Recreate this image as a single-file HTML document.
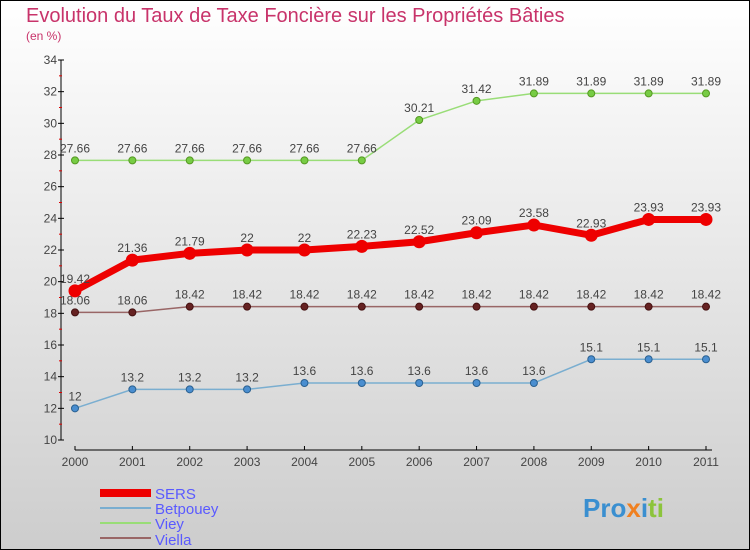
<!DOCTYPE html>
<html><head><meta charset="utf-8"><style>
body{margin:0}
svg{display:block;font-family:"Liberation Sans",sans-serif}
</style></head><body>
<svg width="750" height="550" xmlns="http://www.w3.org/2000/svg">
<defs><linearGradient id="bg" x1="0" y1="0" x2="0" y2="1"><stop offset="0" stop-color="#ffffff"/><stop offset="1" stop-color="#cdcdcd"/></linearGradient></defs>
<rect x="0.5" y="0.5" width="749" height="549" fill="url(#bg)" stroke="#000"/>
<text x="26" y="22" font-size="20" fill="#c8336a">Evolution du Taux de Taxe Foncière sur les Propriétés Bâties</text>
<text x="26" y="40" font-size="12" fill="#c8336a">(en %)</text>
<g id="axes"></g>
<g id="series"></g>
<g>
<rect x="100" y="489" width="51" height="8" fill="#ee0000"/>
<text x="155" y="499" font-size="15" fill="#5a5aff">SERS</text>
<line x1="100" y1="508" x2="151" y2="508" stroke="#7aaed0" stroke-width="2"/>
<text x="155" y="514" font-size="15" fill="#5a5aff">Betpouey</text>
<line x1="100" y1="523" x2="151" y2="523" stroke="#99dd77" stroke-width="2"/>
<text x="155" y="529" font-size="15" fill="#5a5aff">Viey</text>
<line x1="100" y1="538" x2="151" y2="538" stroke="#996666" stroke-width="2"/>
<text x="155" y="545" font-size="15" fill="#5a5aff">Viella</text>
</g>
<text x="583" y="517" font-size="26" font-weight="bold"><tspan fill="#3a8fd0">Pro</tspan><tspan fill="#f08020">x</tspan><tspan fill="#3a8fd0">i</tspan><tspan fill="#8cc43c">ti</tspan></text>
</svg>
<script>
const years=[2000,2001,2002,2003,2004,2005,2006,2007,2008,2009,2010,2011];
const yTicks=[10,12,14,16,18,20,22,24,26,28,30,32,34];
const sers=[19.42,21.36,21.79,22,22,22.23,22.52,23.09,23.58,22.93,23.93,23.93];
const betpouey=[12,13.2,13.2,13.2,13.6,13.6,13.6,13.6,13.6,15.1,15.1,15.1];
const viey=[27.66,27.66,27.66,27.66,27.66,27.66,30.21,31.42,31.89,31.89,31.89,31.89];
const viella=[18.06,18.06,18.42,18.42,18.42,18.42,18.42,18.42,18.42,18.42,18.42,18.42];
const NS='http://www.w3.org/2000/svg';
const xs=i=>75+i*(706-75)/11;
const ys=v=>440-(v-10)*(380/24);
function mk(t,a,p){const e=document.createElementNS(NS,t);for(const k in a)e.setAttribute(k,a[k]);p.appendChild(e);return e;}
const ax=document.getElementById('axes');
const yl=mk('line',{x1:61,y1:60,x2:61,y2:440,stroke:'#000'},ax);


yTicks.forEach(v=>{
 mk('line',{x1:58,y1:ys(v),x2:64,y2:ys(v),stroke:'#000'},ax);
 if(v<34)mk('line',{x1:59,y1:ys(v+1),x2:62,y2:ys(v+1),stroke:'#d00'},ax);
 const t=mk('text',{x:57,y:ys(v)+4,'font-size':12,fill:'#444','text-anchor':'end'},ax);t.textContent=v;
 
 
});
const xl=mk('line',{x1:75,y1:450,x2:712,y2:450,stroke:'#000'},ax);


years.forEach((y,i)=>{
 mk('line',{x1:xs(i),y1:446,x2:xs(i),y2:450,stroke:'#000'},ax);
 const t=mk('text',{x:xs(i),y:466,'font-size':12,fill:'#444','text-anchor':'middle'},ax);t.textContent=y;
 
 
});
const sg=document.getElementById('series');
function draw(arr,name,color,w,dot,dotStroke,r){
 const g=mk('g',{},sg);
 
 
 mk('polyline',{points:arr.map((v,i)=>xs(i)+','+ys(v)).join(' '),fill:'none',stroke:color,'stroke-width':w},g);
 arr.forEach((v,i)=>{
  const c=mk('circle',{cx:xs(i),cy:ys(v),r:r,fill:dot,stroke:dotStroke},g);
  
  
  const t=mk('text',{x:xs(i),y:ys(v)-8,'font-size':12,fill:'#444','text-anchor':'middle'},g);
  t.textContent=v;
  
  
 });
}
draw(viey,'viey','#99dd77',1.5,'#77cc44','#559922',3.5);
draw(betpouey,'betpouey','#7aaed0',1.5,'#4a8ed0','#2a6090',3.5);
draw(viella,'viella','#996666',1.5,'#662222','#441111',3.5);
draw(sers,'sers','#ee0000',7,'#ee0000','#ee0000',6);
</script>
</body></html>
